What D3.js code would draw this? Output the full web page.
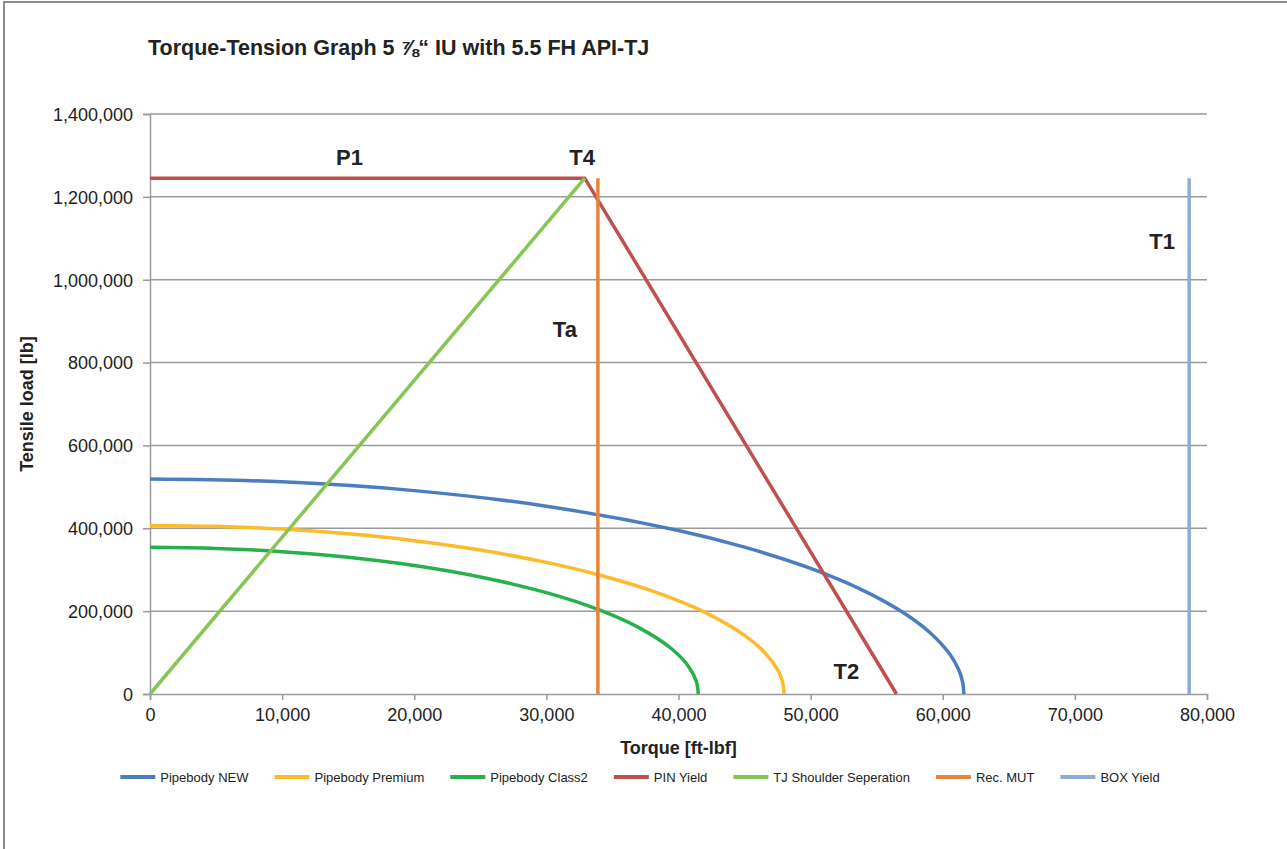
<!DOCTYPE html>
<html>
<head>
<meta charset="utf-8">
<script src="https://cdn.jsdelivr.net/npm/d3@7"></script>
<style>
  body { margin: 0; background: #fff; }
  text { font-family: Arial, "Liberation Sans", sans-serif; fill: #222; }
</style>
</head>
<body>
<svg id="chart"></svg>
<script>
// chart data (torque ft-lbf, tension lb)
const torqueTicks = [0, 10000, 20000, 30000, 40000, 50000, 60000, 70000, 80000];
const tensionTicks = [0, 200000, 400000, 600000, 800000, 1000000, 1200000, 1400000];

const pipeNew = [[0, 519000], [10000, 512100], [20000, 490900], [30000, 453300], [40000, 394700],
  [45000, 354400], [50000, 303200], [54000, 249700], [57000, 196800], [59000, 149200],
  [60500, 97600], [61200, 59000], [61500, 29500], [61600, 0]];
const pipePremium = [[0, 407000], [5000, 404800], [10000, 398100], [15000, 386600], [20000, 370000],
  [25000, 347400], [30000, 317700], [34000, 287300], [38000, 248700], [42000, 197000],
  [45000, 141600], [46500, 100900], [47500, 58600], [47850, 32100], [48000, 0]];
const pipeClass2 = [[0, 354000], [5000, 351400], [10000, 343600], [15000, 330100], [20000, 310200],
  [25000, 282600], [30000, 244600], [34000, 203000], [37000, 160300], [39500, 108600],
  [40800, 64700], [41350, 30000], [41500, 0]];
const pinYield = [[0, 1245000], [32900, 1245000], [56500, 0]];
const shoulderSep = [[0, 0], [32900, 1245000]];
const recMUT = [[33900, 0], [33900, 1245000]];
const boxYield = [[78650, 0], [78650, 1245000]];

const seriesNames = ["Pipebody NEW", "Pipebody Premium", "Pipebody Class2", "PIN Yield",
  "TJ Shoulder Seperation", "Rec. MUT", "BOX Yield"];
const seriesData = [pipeNew, pipePremium, pipeClass2, pinYield, shoulderSep, recMUT, boxYield];
const seriesColors = ["#4a7ec0", "#fdbb2c", "#27b04c", "#c0504d", "#86c655", "#e8843a", "#8eaad6"];
const seriesCurved = [true, true, true, false, false, false, false];

const pointLabels = ["P1", "T4", "Ta", "T1", "T2"];
const pointX = [15100, 32700, 31400, 76600, 52700];
const pointY = [1296000, 1296000, 880000, 1093000, 54000];

const titleText = "Torque-Tension Graph 5 \u215E\u201C IU with 5.5 FH API-TJ";

// layout
const W = 1287, H = 849;
const margin = { top: 114, right: 80, bottom: 155, left: 150 };
const width = 1207 - margin.left;
const height = 694 - margin.top;

const svg = d3.select("#chart").attr("width", W).attr("height", H);

// outer frame
svg.append("rect")
  .attr("x", 4).attr("y", 2)
  .attr("width", W + 20).attr("height", H + 20)
  .attr("fill", "none").attr("stroke", "#8c8c8c").attr("stroke-width", 2);

svg.append("text")
  .attr("x", 148).attr("y", 55)
  .style("font-size", "21.5px").style("font-weight", "bold")
  .text(titleText);

const g = svg.append("g").attr("transform", `translate(${margin.left},${margin.top})`);

const x = d3.scaleLinear().domain([0, 80000]).range([0, width]);
const y = d3.scaleLinear().domain([0, 1400000]).range([height, 0]);

// horizontal gridlines
g.append("g")
  .selectAll("line")
  .data(tensionTicks.slice(1))
  .join("line")
  .attr("x1", 0).attr("x2", width)
  .attr("y1", d => y(d)).attr("y2", d => y(d))
  .attr("stroke", "#9a9a9a").attr("stroke-width", 1.5);

// axes
const fmt = d3.format(",");
const xAxis = g.append("g")
  .attr("transform", `translate(0,${height})`)
  .call(d3.axisBottom(x).tickValues(torqueTicks).tickFormat(fmt).tickSize(6).tickPadding(8));
const yAxis = g.append("g")
  .call(d3.axisLeft(y).tickValues(tensionTicks).tickFormat(fmt).tickSize(7).tickPadding(10));

[xAxis, yAxis].forEach(a => {
  a.select(".domain").attr("stroke", "#9a9a9a").attr("stroke-width", 1.5);
  a.selectAll(".tick line").attr("stroke", "#9a9a9a").attr("stroke-width", 1.5);
  a.selectAll(".tick text")
    .style("font-size", "18px")
    .style("font-family", "Arial, 'Liberation Sans', sans-serif")
    .attr("fill", "#222");
});
yAxis.selectAll(".tick text").attr("dy", "0.35em");

// series lines
const line = d3.line().x(d => x(d[0])).y(d => y(d[1]));
const smooth = d3.line().x(d => x(d[0])).y(d => y(d[1])).curve(d3.curveCatmullRom.alpha(0.5));

seriesData.forEach((data, i) => {
  g.append("path")
    .datum(data)
    .attr("fill", "none")
    .attr("stroke", seriesColors[i])
    .attr("stroke-width", 3.5)
    .attr("d", seriesCurved[i] ? smooth : line);
});

// point labels
pointLabels.forEach((t, i) => {
  g.append("text")
    .attr("x", x(pointX[i])).attr("y", y(pointY[i]))
    .attr("text-anchor", "middle").attr("dy", "0.35em")
    .style("font-size", "22px").style("font-weight", "bold")
    .text(t);
});

// axis titles
svg.append("text")
  .attr("x", margin.left + width / 2).attr("y", 754)
  .attr("text-anchor", "middle")
  .style("font-size", "18px").style("font-weight", "bold")
  .text("Torque [ft-lbf]");

svg.append("text")
  .attr("transform", `translate(33,${margin.top + height / 2}) rotate(-90)`)
  .attr("text-anchor", "middle")
  .style("font-size", "18px").style("font-weight", "bold")
  .text("Tensile load [lb]");

// legend
const legend = svg.append("g");
let lx = 0;
seriesNames.forEach((name, i) => {
  const item = legend.append("g").attr("transform", `translate(${lx},0)`);
  item.append("line")
    .attr("x1", 0).attr("x2", 35)
    .attr("stroke", seriesColors[i]).attr("stroke-width", 4);
  const t = item.append("text")
    .attr("x", 40).attr("dy", "0.35em")
    .style("font-size", "13px")
    .text(name);
  lx += 40 + t.node().getComputedTextLength() + 26;
});
lx -= 26;
legend.attr("transform", `translate(${640 - lx / 2},777)`);
</script>
</body>
</html>
